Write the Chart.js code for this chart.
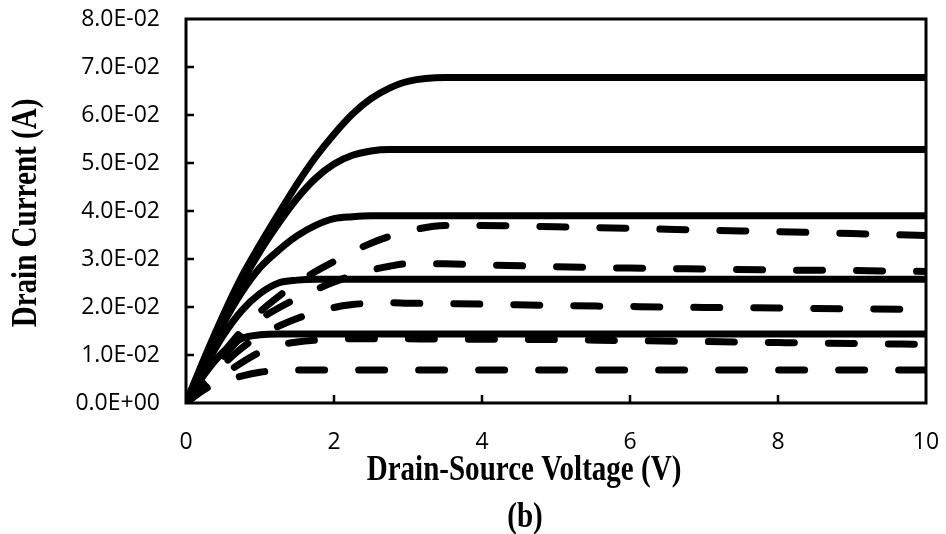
<!DOCTYPE html>
<html>
<head>
<meta charset="utf-8">
<script src="https://cdn.jsdelivr.net/npm/chart.js@4.4.1/dist/chart.umd.min.js"></script>
<style>
    html, body { margin: 0; padding: 0; background: #fff; }
    #wrap { width: 946px; height: 534px; position: relative; }
</style>
</head>
<body>
<div id="wrap"><canvas id="ivChart"></canvas></div>
<script>
// Drain-source voltage sweep (V)
const voltage = [0, 0.25, 0.5, 0.75, 1, 1.25, 1.5, 1.75, 2, 2.25, 2.5, 2.75, 3, 3.5, 4, 5, 6, 7, 8, 9, 10];

// Solid curves: drain current (A) for five gate biases
const solid1 = [0, 0.0094, 0.0182, 0.0262, 0.0330, 0.0394, 0.0456, 0.0512, 0.0560, 0.0602, 0.0634, 0.0656, 0.0670, 0.0678, 0.0678, 0.0678, 0.0678, 0.0678, 0.0678, 0.0678, 0.0678];
const solid2 = [0, 0.0090, 0.0174, 0.0250, 0.0316, 0.0374, 0.0426, 0.0468, 0.0498, 0.0516, 0.0525, 0.0528, 0.0528, 0.0528, 0.0528, 0.0528, 0.0528, 0.0528, 0.0528, 0.0528, 0.0528];
const solid3 = [0, 0.0086, 0.0164, 0.0230, 0.0282, 0.0318, 0.0348, 0.0370, 0.0384, 0.0388, 0.0390, 0.0390, 0.0390, 0.0390, 0.0390, 0.0390, 0.0390, 0.0390, 0.0390, 0.0390, 0.0390];
const solid4 = [0, 0.0074, 0.0140, 0.0192, 0.0228, 0.0250, 0.0256, 0.0258, 0.0258, 0.0258, 0.0258, 0.0258, 0.0258, 0.0258, 0.0258, 0.0258, 0.0258, 0.0258, 0.0258, 0.0258, 0.0258];
const solid5 = [0, 0.0060, 0.0106, 0.0134, 0.0142, 0.0144, 0.0144, 0.0144, 0.0144, 0.0144, 0.0144, 0.0144, 0.0144, 0.0144, 0.0144, 0.0144, 0.0144, 0.0144, 0.0144, 0.0144, 0.0144];

// Dashed curves: drain current (A), same biases, with droop at high voltage
const dashed1 = [0, 0.0054, 0.0104, 0.0150, 0.0190, 0.0222, 0.0250, 0.0274, 0.0295, 0.0315, 0.0333, 0.0347, 0.0358, 0.0370, 0.0370, 0.0367, 0.0364, 0.0360, 0.0357, 0.0353, 0.0349];
const dashed2 = [0, 0.0050, 0.0096, 0.0138, 0.0174, 0.0198, 0.0218, 0.0236, 0.0252, 0.0266, 0.0277, 0.0285, 0.0290, 0.0290, 0.0288, 0.0284, 0.0281, 0.0279, 0.0277, 0.0276, 0.0274];
const dashed3 = [0, 0.0042, 0.0080, 0.0114, 0.0141, 0.0160, 0.0176, 0.0189, 0.0199, 0.0205, 0.0208, 0.0209, 0.0208, 0.0207, 0.0206, 0.0203, 0.0201, 0.0199, 0.0198, 0.0196, 0.0195];
const dashed4 = [0, 0.0032, 0.0058, 0.0084, 0.0106, 0.0120, 0.0127, 0.0131, 0.0133, 0.0134, 0.0134, 0.0134, 0.0134, 0.0133, 0.0133, 0.0132, 0.0130, 0.0128, 0.0126, 0.0124, 0.0122];
const dashed5 = [0, 0.0028, 0.0045, 0.0056, 0.0064, 0.0068, 0.0069, 0.0069, 0.0069, 0.0069, 0.0069, 0.0069, 0.0069, 0.0069, 0.0069, 0.0069, 0.0069, 0.0069, 0.0069, 0.0069, 0.0069];

const solidSeries = [solid1, solid2, solid3, solid4, solid5];
const dashedSeries = [dashed1, dashed2, dashed3, dashed4, dashed5];

// Axis range and tick steps
const xMin = 0, xMax = 10, xStep = 2;
const yMin = 0, yMax = 0.08, yStep = 0.01;

const xTitle = 'Drain-Source Voltage (V)';
const yTitle = 'Drain Current (A)';
const caption = '(b)';

function toPoints(values) {
    return values.map((v, i) => ({ x: voltage[i], y: v }));
}

// 8.0E-02 style labels
function sciLabel(value) {
    const parts = Number(value).toExponential(1).toUpperCase().split('E');
    const sign = parts[1][0] === '-' ? '-' : '+';
    const exp = Math.abs(parseInt(parts[1], 10)).toString().padStart(2, '0');
    return parts[0] + 'E' + sign + exp;
}

const datasets = [];
dashedSeries.forEach(values => {
    datasets.push({
        data: toPoints(values),
        borderColor: '#000',
        borderWidth: 7,
        borderDash: [26, 34],
        borderCapStyle: 'round',
        borderJoinStyle: 'round',
        pointRadius: 0,
        cubicInterpolationMode: 'monotone',
        fill: false
    });
});
solidSeries.forEach(values => {
    datasets.push({
        data: toPoints(values),
        borderColor: '#000',
        borderWidth: 7,
        borderJoinStyle: 'round',
        pointRadius: 0,
        cubicInterpolationMode: 'monotone',
        fill: false
    });
});

// Box frame, inward tick marks and the serif axis titles
const framePlugin = {
    id: 'frame',
    afterDraw(chart) {
        const { ctx, chartArea: a, scales } = chart;
        ctx.save();
        ctx.strokeStyle = '#000';
        ctx.lineWidth = 3;
        ctx.strokeRect(a.left, a.top, a.right - a.left, a.bottom - a.top);

        ctx.lineWidth = 2.5;
        ctx.beginPath();
        scales.x.ticks.forEach(t => {
            const px = scales.x.getPixelForValue(t.value);
            if (px <= a.left + 1 || px >= a.right - 1) return;
            ctx.moveTo(px, a.bottom);
            ctx.lineTo(px, a.bottom - 8);
        });
        scales.y.ticks.forEach(t => {
            const py = scales.y.getPixelForValue(t.value);
            if (py >= a.bottom - 1 || py <= a.top + 1) return;
            ctx.moveTo(a.left, py);
            ctx.lineTo(a.left + 8, py);
        });
        ctx.stroke();

        ctx.fillStyle = '#000';
        ctx.font = 'bold 35px "Liberation Serif", "Times New Roman", serif';
        ctx.textAlign = 'center';
        ctx.textBaseline = 'alphabetic';

        ctx.save();
        ctx.translate(524, 480);
        ctx.scale(0.83, 1);
        ctx.fillText(xTitle, 0, 0);
        ctx.restore();

        ctx.save();
        ctx.translate(525, 527);
        ctx.scale(0.83, 1);
        ctx.fillText(caption, 0, 0);
        ctx.restore();

        ctx.save();
        ctx.translate(36, 213);
        ctx.rotate(-Math.PI / 2);
        ctx.scale(0.83, 1);
        ctx.fillText(yTitle, 0, 0);
        ctx.restore();

        ctx.restore();
    }
};

const tickFont = { family: '"Open Sans", sans-serif', size: 23 };

new Chart(document.getElementById('ivChart'), {
    type: 'line',
    data: { datasets: datasets },
    options: {
        responsive: true,
        maintainAspectRatio: false,
        animation: false,
        layout: { padding: { top: 19, right: 20, left: 0, bottom: 0 } },
        plugins: {
            legend: { display: false },
            tooltip: { enabled: false }
        },
        scales: {
            x: {
                type: 'linear',
                min: xMin,
                max: xMax,
                ticks: { stepSize: xStep, color: '#000', font: tickFont, padding: 26 },
                grid: { display: false, drawTicks: false },
                border: { display: false },
                afterFit(scale) {
                    scale.height = 131;
                    scale.paddingLeft = 0;
                    scale.paddingRight = 0;
                }
            },
            y: {
                type: 'linear',
                min: yMin,
                max: yMax,
                ticks: { stepSize: yStep, color: '#000', font: tickFont, padding: 26, callback: sciLabel },
                grid: { display: false, drawTicks: false },
                border: { display: false },
                afterFit(scale) {
                    scale.width = 186;
                    scale.paddingTop = 0;
                    scale.paddingBottom = 0;
                }
            }
        }
    },
    plugins: [framePlugin]
});
</script>
</body>
</html>
